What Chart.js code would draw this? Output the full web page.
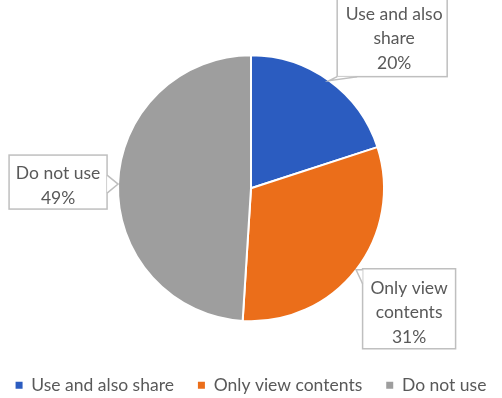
<!DOCTYPE html>
<html>
<head>
<meta charset="utf-8">
<script src="https://cdn.jsdelivr.net/npm/chart.js@4"></script>
<style>
  html, body { margin: 0; padding: 0; background: #fff; }
  #chart { display: block; }
</style>
</head>
<body>
<canvas id="chart" width="502" height="398"></canvas>
<script>
// Data
const categories = ['Use and also share', 'Only view contents', 'Do not use'];
const shares = [20, 31, 49];
const calloutLines = [['Use and also', 'share'], ['Only view', 'contents'], ['Do not use']];
const sliceColors = ['#2B5CC0', '#EB6E1A', '#9E9E9E'];

const FONT = 'Lato, "Open Sans", sans-serif';
const FONT_SIZE = 17.5;
const TEXT_GREY = '#595959';

// Excel style callout boxes, placed relative to the slice edge
const calloutPlugin = {
    id: 'callouts',
    afterDatasetsDraw(chart, args, opts) {
        const ctx = chart.ctx;
        const meta = chart.getDatasetMeta(0);
        meta.data.forEach((arc, i) => {
            const p = arc.getProps(['x', 'y', 'startAngle', 'endAngle', 'outerRadius'], true);
            const mid = (p.startAngle + p.endAngle) / 2;
            const tipX = p.x + Math.cos(mid) * p.outerRadius;
            const tipY = p.y + Math.sin(mid) * p.outerRadius;
            const c = opts.boxes[i];
            const left = tipX + c.dx - c.w / 2;
            const top = tipY + c.dy - c.h / 2;

            ctx.save();
            ctx.fillStyle = '#fff';
            ctx.strokeStyle = '#BFBFBF';
            ctx.lineWidth = 1.5;
            ctx.fillRect(left, top, c.w, c.h);
            ctx.strokeRect(left, top, c.w, c.h);

            // pointer wedge
            let a, b;
            if (c.side === 'bottom') {
                a = [left + c.b0, top + c.h];
                b = [left + c.b1, top + c.h];
            } else if (c.side === 'left') {
                a = [left, top + c.b0];
                b = [left, top + c.b1];
            } else {
                a = [left + c.w, top + c.b0];
                b = [left + c.w, top + c.b1];
            }
            ctx.beginPath();
            ctx.moveTo(a[0], a[1]);
            ctx.lineTo(tipX, tipY);
            ctx.lineTo(b[0], b[1]);
            ctx.closePath();
            ctx.fill();
            ctx.beginPath();
            ctx.moveTo(a[0], a[1]);
            ctx.lineTo(tipX, tipY);
            ctx.lineTo(b[0], b[1]);
            ctx.stroke();

            // text
            const lines = calloutLines[i].concat([shares[i] + '%']);
            ctx.fillStyle = TEXT_GREY;
            ctx.font = FONT_SIZE + 'px ' + FONT;
            ctx.textAlign = 'center';
            ctx.textBaseline = 'middle';
            const lh = 24.5;
            const cx = left + c.w / 2 + (c.tx || 0);
            const cy = top + c.h / 2 + (c.ty || 0);
            lines.forEach((t, k) => {
                ctx.fillText(t, cx, cy + (k - (lines.length - 1) / 2) * lh);
            });
            ctx.restore();
        });
    }
};

new Chart(document.getElementById('chart'), {
    type: 'pie',
    data: {
        labels: categories,
        datasets: [{
            data: shares,
            backgroundColor: sliceColors,
            borderColor: '#fff',
            borderWidth: 2,
            radius: 133
        }]
    },
    options: {
        responsive: false,
        animation: false,
        // negative side padding lets the single legend row spread a bit wider
        layout: { padding: { top: 24, bottom: -6, left: -12, right: -12 } },
        plugins: {
            tooltip: { enabled: false },
            legend: {
                position: 'bottom',
                labels: {
                    color: TEXT_GREY,
                    font: { family: FONT, size: FONT_SIZE },
                    usePointStyle: true,
                    boxWidth: 7,
                    boxHeight: 7,
                    padding: 24,
                    generateLabels: (chart) => chart.data.labels.map((l, i) => ({
                        text: l,
                        fillStyle: sliceColors[i],
                        strokeStyle: sliceColors[i],
                        lineWidth: 0,
                        pointStyle: 'rect',
                        fontColor: TEXT_GREY,
                        hidden: false,
                        index: i
                    }))
                }
            },
            callouts: {
                boxes: [
                    { dx: 63, dy: -44, w: 110, h: 80, side: 'bottom', b0: 0, b1: 20, tx: 2, ty: 2 },
                    { dx: 53, dy: 39, w: 93, h: 80, side: 'left', b0: 1, b1: 15, ty: 4 },
                    { dx: -60, dy: -2, w: 98, h: 54, side: 'right', b0: 20, b1: 38, ty: 4 }
                ]
            }
        }
    },
    plugins: [calloutPlugin]
});
</script>
</body>
</html>
